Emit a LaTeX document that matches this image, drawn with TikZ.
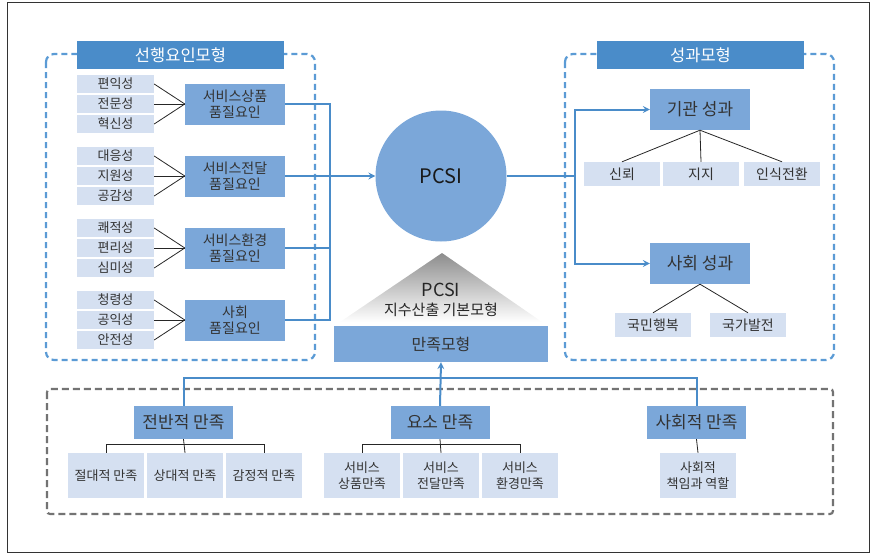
\documentclass[tikz,border=0pt]{standalone}
\usepackage{fontspec}
\setmainfont{Noto Sans CJK KR}
\usepackage{xcolor}
\usetikzlibrary{
		calc,
		positioning
	}
\tikzset{
		>=stealth
	}
\definecolor{titleblue}{HTML}{4A8CC9}
\definecolor{factorblue}{HTML}{7BA7D9}
\definecolor{itemblue}{HTML}{D5E0F1}
\definecolor{lineblue}{HTML}{4A8CC9}
\definecolor{dashblue}{HTML}{5B9BD5}
\definecolor{textgray}{HTML}{333333}

\begin{document}
\begin{tikzpicture}[x=1pt,y=-1pt,
    titlebox/.style={fill=titleblue, text=white, inner sep=0pt,
      minimum width=207pt, minimum height=28pt, font=\fontsize{16.5}{18}\selectfont},
    factorbox/.style={fill=factorblue, text=textgray, inner sep=0pt, align=center,
      minimum width=100pt, minimum height=41pt, font=\fontsize{14}{15.5}\selectfont},
    itembox/.style={fill=itemblue, text=textgray, inner sep=0pt,
      minimum width=77pt, minimum height=18pt, font=\fontsize{13}{13}\selectfont},
    resultbox/.style={fill=factorblue, text=textgray, inner sep=0pt,
      minimum width=100pt, minimum height=41pt, font=\fontsize{17}{19}\selectfont},
    leafbox/.style={fill=itemblue, text=textgray, inner sep=0pt,
      minimum width=76pt, minimum height=24pt, font=\fontsize{14}{15}\selectfont},
    satbox/.style={fill=factorblue, text=textgray, inner sep=0pt,
      minimum width=99pt, minimum height=33pt, font=\fontsize{17}{19}\selectfont},
    satleaf/.style={fill=itemblue, text=textgray, inner sep=0pt, align=center,
      minimum width=76pt, minimum height=45pt, font=\fontsize{13}{16}\selectfont},
    bus/.style={draw=lineblue, line width=2pt},
    twig/.style={draw=black!85, line width=0.8pt},
    groupline/.style={draw=dashblue, line width=2.2pt, rounded corners=8pt,
      dash pattern=on 6pt off 4pt},
    grayline/.style={draw=black!55, line width=2.2pt, rounded corners=3pt,
      dash pattern=on 7pt off 4pt}]
  \useasboundingbox (0,0) rectangle (871,555);
  \draw[black!80, line width=0.8pt] (7,2) rectangle (869,552);

  % group frames
  \draw[groupline] (46,54) rectangle (315,360);
  \draw[groupline] (565,54) rectangle (834,360);
  \draw[grayline] (47,389) rectangle (833,514);
  \node[titlebox] (lefttitle) at (180.5,55) {선행요인모형};
  \node[titlebox] (righttitle) at (700.5,55) {성과모형};

  % antecedent factors
  \foreach \g/\y/\ta/\tb/\tc/\fa/\fb in {
      1/104/편익성/전문성/혁신성/서비스상품/품질요인,
      2/176/대응성/지원성/공감성/서비스전달/품질요인,
      3/248/쾌적성/편리성/심미성/서비스환경/품질요인,
      4/320/청령성/공익성/안전성/사회/품질요인}{
    \node[itembox] (a\g1) at (115.5,\y-20) {\ta};
    \node[itembox] (a\g2) at (115.5,\y) {\tb};
    \node[itembox] (a\g3) at (115.5,\y+20) {\tc};
    \node[factorbox] (f\g) at (235,\y) {\fa\\\fb};
    \draw[twig] (a\g1.east) -- (f\g.west);
    \draw[twig] (a\g2.east) -- (f\g.west);
    \draw[twig] (a\g3.east) -- (f\g.west);
  }

  \node[circle, fill=factorblue, minimum size=131pt, inner sep=0pt, text=black!90,
    font=\fontsize{20}{22}\selectfont] (pcsi) at (441,176) {PCSI};

  \draw[bus] (f1.east) -- ++(45,0) |- (f4.east);
  \draw[bus] (f3.east) -- ++(45,0);
  \draw[bus,->] (f2.east) -- (pcsi.west);

  % base model
  \shade[top color=black!45, bottom color=white] (442,253) -- (542,322) -- (340,322) -- cycle;
  \node[align=center, text=black!85, font=\fontsize{15}{19}\selectfont] (basetext) at (441,300)
    {\fontsize{18}{19}\selectfont PCSI\\지수산출 기본모형};
  \node[fill=factorblue, text=textgray, minimum width=214pt, minimum height=36pt,
    inner sep=0pt, font=\fontsize{16}{18}\selectfont] (model) at (441,344) {만족모형};

  % outcomes
  \node[resultbox] (inst) at (700,109.5) {기관 성과};
  \node[resultbox] (soc) at (700,263.5) {사회 성과};
  \node[leafbox] (trust) at (622,174) {신뢰};
  \node[leafbox] (support) at (701,174) {지지};
  \node[leafbox] (percep) at (782,174) {인식전환};
  \node[leafbox] (happy) at (653,325) {국민행복};
  \node[leafbox] (devel) at (748,325) {국가발전};
  \draw[twig] (inst.south) -- (trust.north);
  \draw[twig] (inst.south) -- (support.north);
  \draw[twig] (inst.south) -- (percep.north);
  \draw[twig] (soc.south) -- (happy.north);
  \draw[twig] (soc.south) -- (devel.north);

  \coordinate (rbus) at (575,176);
  \draw[bus] (pcsi.east) -- (rbus);
  \draw[bus,->] (rbus) |- (inst.west);
  \draw[bus,->] (rbus) |- (soc.west);

  % satisfaction
  \node[satbox] (overall) at (183.5,422.5) {전반적 만족};
  \node[satbox] (element) at (440,422.5) {요소 만족};
  \node[satbox] (social) at (696.5,422.5) {사회적 만족};
  \node[satleaf] (absol) at (106,475.5) {절대적 만족};
  \node[satleaf] (relat) at (185,475.5) {상대적 만족};
  \node[satleaf] (emot) at (264,475.5) {감정적 만족};
  \node[satleaf] (prod) at (362,475.5) {서비스\\상품만족};
  \node[satleaf] (deliv) at (441,475.5) {서비스\\전달만족};
  \node[satleaf] (envir) at (520,475.5) {서비스\\환경만족};
  \node[satleaf] (respon) at (698,475.5) {사회적\\책임과 역할};

  \draw[twig] (absol.north) -- ++(0,-8) -| (emot.north);
  \draw[twig] (overall.south) -- (relat.north);
  \draw[twig] (prod.north) -- ++(0,-8) -| (envir.north);
  \draw[twig] (element.south) -- (deliv.north);
  \draw[twig] (social.south) -- (respon.north);

  \draw[bus] (overall.north) -- ++(0,-28) -| (social.north);
  \draw[bus,->] (element.north) -- (model.south);
\end{tikzpicture}
\end{document}
